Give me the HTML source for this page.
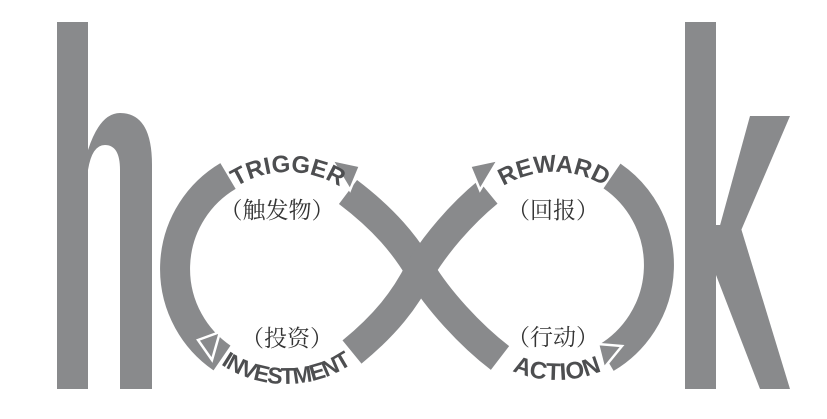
<!DOCTYPE html>
<html><head><meta charset="utf-8"><style>
html,body{margin:0;padding:0;background:#fff;}
svg{display:block;}
.en{font-family:"Liberation Sans",sans-serif;font-weight:bold;fill:#4d4e50;}
.cn{font-family:"Noto Serif CJK SC","Noto Sans CJK SC",serif;font-size:23px;fill:#333;}
</style></head><body>
<svg width="827" height="419" viewBox="0 0 827 419" xmlns="http://www.w3.org/2000/svg">
<defs>
<path id="pTop1" d="M 190 270 A 98 98 0 0 1 386 270"/>
<path id="pBot1" d="M 168 266 A 118 118 0 0 0 404 266"/>
<path id="pTop2" d="M 456 270 A 98 98 0 0 1 652 270"/>
<path id="pBot2" d="M 443 266 A 114 114 0 0 0 671 266"/>
</defs>
<g fill="#898a8c">
<rect x="57" y="22" width="31" height="367"/>
<path d="M 88 150 Q 100 113 120 113 Q 152 113 152 165 L 152 389 L 120 389 L 120 170 Q 120 145 105 145 Q 92 145 88 170 Z"/>
<rect x="685" y="22" width="31" height="367"/>
<polygon points="750,116 790,116 722,275 716,240"/>
<polygon points="716,225 740,225 790,389 760,389 716,275"/>
</g>
<g fill="none" stroke="#898a8c" stroke-width="30">
<path d="M 228 176 A 108 108 0 0 0 222 358"/>
<path d="M 612 176 A 108 108 0 0 1 606 358"/>
<path d="M 348 192 C 385 220, 405 245, 420 270 C 438 300, 470 335, 500 358"/>
<path d="M 352 352 C 385 325, 405 300, 420 270 C 435 245, 460 215, 488 192"/>
</g>
<g fill="#898a8c" stroke="#fff" stroke-width="2.5">
<polygon points="332,160 360,166 350,190"/>
<polygon points="498,160 470,166 480,190"/>
<polygon points="198,340 220,332 212,360"/>
<polygon points="622,346 604,368 598,344"/>
</g>
<text class="en" font-size="24"><textPath href="#pTop1" startOffset="50%" text-anchor="middle">TRIGGER</textPath></text>
<text class="en" font-size="23" letter-spacing="-1"><textPath href="#pBot1" startOffset="50%" text-anchor="middle">INVESTMENT</textPath></text>
<text class="en" font-size="24"><textPath href="#pTop2" startOffset="50%" text-anchor="middle">REWARD</textPath></text>
<text class="en" font-size="24"><textPath href="#pBot2" startOffset="50%" text-anchor="middle">ACTION</textPath></text>
<text class="cn" x="277" y="218" text-anchor="middle">（触发物）</text>
<text class="cn" x="287" y="346" text-anchor="middle">（投资）</text>
<text class="cn" x="553" y="218" text-anchor="middle">（回报）</text>
<text class="cn" x="553" y="345" text-anchor="middle">（行动）</text>
</svg>
</body></html>
